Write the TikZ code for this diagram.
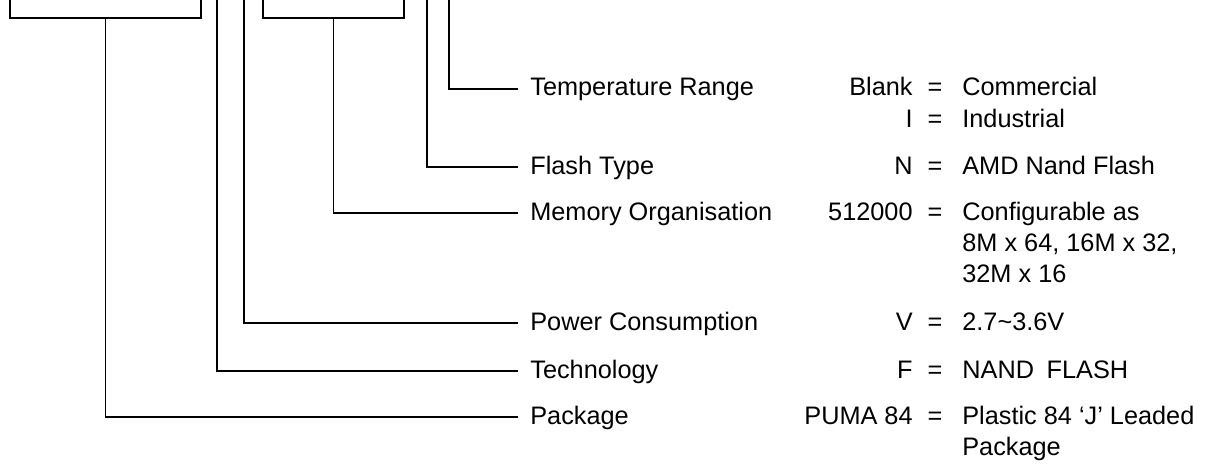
\documentclass[tikz,border=0pt]{standalone}
\usepackage{fontspec}
\setmainfont{Liberation Sans}
\usetikzlibrary{positioning,calc}

% text block hanging from the baseline of its first line
\newcommand{\hangtext}[1]{\parbox[t]{6cm}{\raggedright #1}}

\begin{document}
\begin{tikzpicture}[
  x=0.02cm, y=-0.02cm,
  every node/.style={font=\fontsize{14.4pt}{17.8pt}\selectfont},
  chipbox/.style={draw, line width=1.1pt, minimum height=2cm, inner sep=0},
  field/.style={anchor=base west, inner xsep=0.24cm, inner ysep=0},
  code/.style={anchor=base east, inner sep=0},
  eqsign/.style={anchor=base, inner sep=0},
  value/.style={anchor=base west, inner sep=0},
  lead/.style={line width=1.1pt}
]
\useasboundingbox (0,0) rectangle (1211,467);
\clip (0,0) rectangle (1211,467);

% part number boxes, cut off at the top
\node[chipbox, minimum width=3.82cm] (pkgbox) at (105.5,-32) {};
\node[chipbox, minimum width=2.82cm] (orgbox) at (333.5,-32) {};
\coordinate (techtop) at (217,0);
\coordinate (powertop) at (244,0);
\coordinate (flashtop) at (427,0);
\coordinate (temptop) at (449,0);

% field names
\node[field] (temp) at (518,95) {Temperature Range};
\node[field] (flash) at (518,174) {Flash Type};
\node[field] (memorg) at (518,220) {Memory Organisation};
\node[field] (power) at (518,330) {Power Consumption};
\node[field] (tech) at (518,378) {Technology};
\node[field] (pkg) at (518,424) {Package};

% codes
\node[code] (tempc) at (913,95) {Blank};
\node[code] (indc) at (913,127) {I};
\node[code] (flashc) at (913,174) {N};
\node[code] (memorgc) at (913,220) {512000};
\node[code] (powerc) at (913,330) {V};
\node[code] (techc) at (913,378) {F};
\node[code] (pkgc) at (913,424) {PUMA 84};

\node[eqsign] (tempe) at (935,95) {=};
\node[eqsign] (inde) at (935,127) {=};
\node[eqsign] (flashe) at (935,174) {=};
\node[eqsign] (memorge) at (935,220) {=};
\node[eqsign] (powere) at (935,330) {=};
\node[eqsign] (teche) at (935,378) {=};
\node[eqsign] (pkge) at (935,424) {=};

% meanings
\node[value] (tempv) at (962,95) {Commercial};
\node[value] (indv) at (962,127) {Industrial};
\node[value] (flashv) at (962,174) {AMD Nand Flash};
\node[value] (memorgv) at (962,220) {\hangtext{Configurable as\\8M x 64, 16M x 32,\\32M x 16}};
\node[value] (powerv) at (962,330) {2.7\textasciitilde 3.6V};
\node[value] (techv) at (962,378) {NAND\hspace{0.5em}FLASH};
\node[value] (pkgv) at (962,424) {\hangtext{Plastic 84 `J' Leaded\\Package}};

% leader lines
\draw[lead] (temptop) |- (temp.west);
\draw[lead] (flashtop) |- (flash.west);
\draw[lead] (orgbox.south) |- (memorg.west);
\draw[lead] (powertop) |- (power.west);
\draw[lead] (techtop) |- (tech.west);
\draw[lead] (pkgbox.south) |- (pkg.west);
\end{tikzpicture}
\end{document}
